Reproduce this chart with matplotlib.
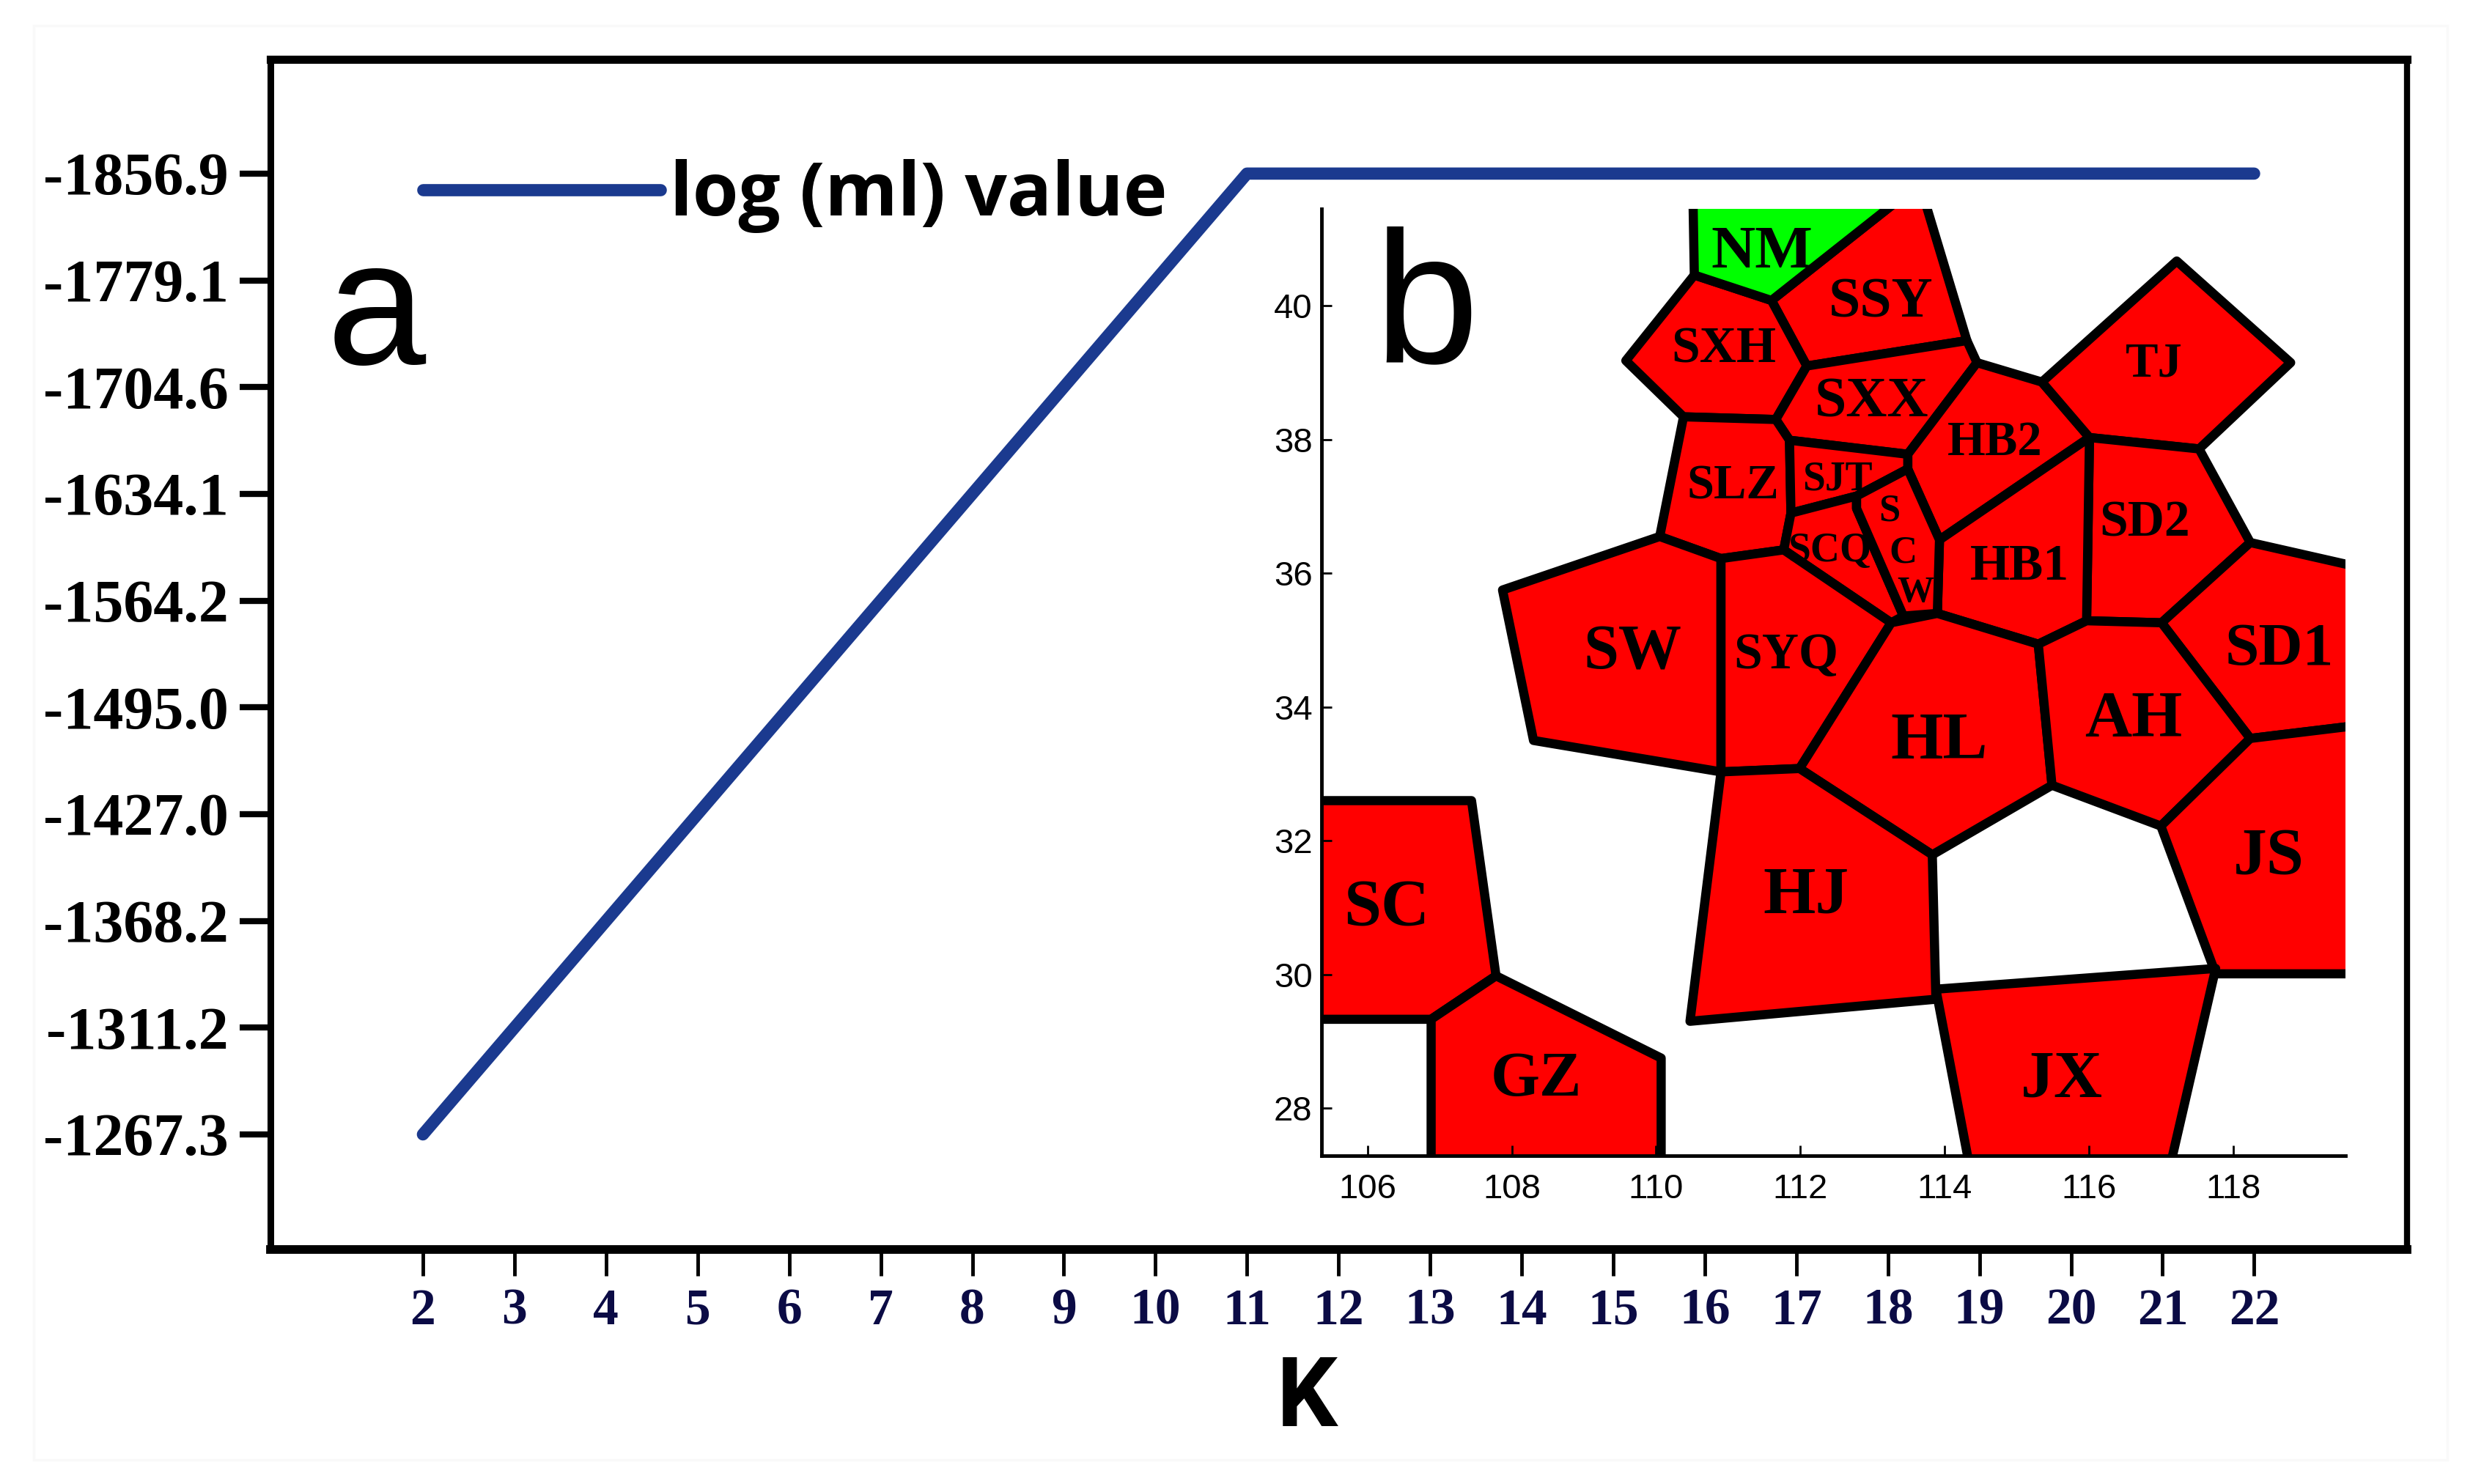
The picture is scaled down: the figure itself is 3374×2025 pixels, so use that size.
import matplotlib
matplotlib.use("Agg")
import matplotlib.pyplot as plt
from matplotlib.patches import Polygon, Rectangle

W, H = 3374, 2025

# panel a: K against log (ml), y axis is evenly spaced by label
K = list(range(2, 23))
log_ml = [-1267.3, -1311.2, -1368.2, -1427.0, -1495.0, -1564.2, -1634.1, -1704.6, -1779.1, -1856.9,
          -1856.9, -1856.9, -1856.9, -1856.9, -1856.9, -1856.9, -1856.9, -1856.9, -1856.9, -1856.9, -1856.9]
y_ticks = [-1267.3, -1311.2, -1368.2, -1427.0, -1495.0, -1564.2, -1634.1, -1704.6, -1779.1, -1856.9]

# panel b: cells as (longitude, latitude)
NM = [(110.51, 41.7), (110.53, 40.46), (111.60, 40.08), (113.5, 41.7)]
SSY = [(113.5, 41.7), (113.69, 41.7), (114.31, 39.48), (112.09, 39.10), (111.60, 40.08)]
SXH = [(110.53, 40.46), (111.60, 40.08), (112.09, 39.10), (111.66, 38.30), (110.38, 38.34), (109.58, 39.18)]
SXX = [(112.09, 39.10), (114.31, 39.48), (114.45, 39.15), (113.49, 37.78), (111.85, 37.99), (111.66, 38.30)]
HB2 = [(114.45, 39.15), (115.35, 38.86), (116.01, 38.03), (113.93, 36.50), (113.49, 37.56), (113.49, 37.78)]
TJ = [(115.35, 38.86), (117.22, 40.67), (118.80, 39.15), (117.53, 37.86), (116.01, 38.03)]
SD2 = [(116.01, 38.03), (117.53, 37.86), (118.24, 36.46), (117.01, 35.26), (115.97, 35.29)]
HB1 = [(116.01, 38.03), (115.97, 35.29), (115.30, 34.94), (113.90, 35.40), (113.93, 36.50)]
SD1 = [(118.24, 36.46), (120.0, 36.03), (120.0, 33.76), (118.24, 33.53), (117.01, 35.26)]
SLZ = [(110.38, 38.34), (111.66, 38.30), (111.85, 37.99), (111.87, 36.90), (111.77, 36.35), (110.90, 36.22), (110.05, 36.55)]
SJT = [(111.85, 37.99), (113.49, 37.78), (113.49, 37.56), (112.78, 37.155), (111.87, 36.90)]
SCQ = [(111.87, 36.90), (112.78, 37.155), (112.78, 36.97), (113.43, 35.36), (113.26, 35.26), (111.77, 36.35)]
SCW = [(113.49, 37.56), (113.93, 36.50), (113.90, 35.40), (113.43, 35.36), (112.78, 36.97), (112.78, 37.155)]
SW = [(107.87, 35.75), (110.05, 36.55), (110.90, 36.22), (110.90, 33.03), (108.30, 33.50)]
SYQ = [(110.90, 36.22), (111.77, 36.35), (113.26, 35.26), (111.99, 33.08), (110.90, 33.03)]
HL = [(113.26, 35.26), (113.90, 35.40), (115.30, 34.94), (115.49, 32.83), (113.83, 31.79), (111.99, 33.08)]
AH = [(115.30, 34.94), (115.97, 35.29), (117.01, 35.26), (118.24, 33.53), (117.00, 32.22), (115.49, 32.83)]
JS = [(118.24, 33.53), (120.0, 33.76), (120.0, 30.01), (117.76, 30.01), (117.00, 32.22)]
JX = [(113.88, 29.78), (117.76, 30.09), (117.10, 27.0), (114.37, 27.0)]
HJ = [(110.90, 33.03), (111.99, 33.08), (113.83, 31.79), (113.88, 29.63), (110.47, 29.30)]
SC = [(105.0, 32.60), (107.44, 32.60), (107.78, 29.98), (106.88, 29.33), (105.0, 29.33)]
GZ = [(106.88, 29.33), (107.78, 29.98), (110.07, 28.75), (110.07, 27.0), (106.88, 27.0)]

red_cells = [SSY, SXH, SXX, HB2, TJ, SD2, HB1, SD1, SLZ, SJT, SCQ, SCW, SW, SYQ, HL, AH, JS, JX, HJ, SC, GZ]
green_cells = [NM]

cell_names = ['NM', 'SSY', 'SXH', 'SXX', 'HB2', 'TJ', 'SLZ', 'SJT', 'SCQ', 'S', 'C', 'W', 'SD2', 'HB1',
              'SD1', 'SW', 'SYQ', 'AH', 'HL', 'JS', 'HJ', 'SC', 'GZ', 'JX']
name_lon = [111.47, 113.12, 110.94, 112.99, 114.70, 116.91, 111.07, 112.51, 112.41, 113.24, 113.43, 113.60,
            116.78, 115.04, 118.64, 109.67, 111.80, 116.62, 113.93, 118.50, 112.08, 106.26, 108.34, 115.63]
name_lat = [40.89, 40.13, 39.42, 38.64, 38.03, 39.20, 37.37, 37.47, 36.40, 36.99, 36.37, 35.77,
            36.83, 36.17, 34.94, 34.90, 34.85, 33.91, 33.58, 31.85, 31.27, 31.08, 28.52, 28.52]
name_size = [60, 56, 50, 56, 48, 48, 48, 40, 40, 38, 38, 36, 50, 50, 60, 62, 50, 64, 66, 66, 66, 66, 62, 66]

fig = plt.figure(figsize=(W / 100, H / 100), dpi=100, facecolor='white')

# faint edge of the pasted picture
fig.add_artist(Rectangle((46 / W, 1 - 1992 / H), (3339 - 46) / W, (1992 - 35) / H, transform=fig.transFigure,
                         facecolor='white', edgecolor='#F9F9F9', lw=2.5, zorder=-1))

# main axes
ax = fig.add_axes([369 / W, 1 - 1705 / H, (3284 - 369) / W, (1705 - 81) / H], facecolor='none')
y_pos = [y_ticks.index(v) for v in log_ml]
ax.plot(K, y_pos, color='#1B3A8F', lw=12, solid_capstyle='round', solid_joinstyle='round', label='log (ml) value')
ax.set_xlim(0.335, 23.67)
ax.set_ylim(-1.078, 10.07)
ax.set_xticks(K)
ax.set_xticklabels([str(k) for k in K], family='Liberation Serif', weight='bold', fontsize=50, color='#0B0B45')
ax.set_yticks(range(len(y_ticks)))
ax.set_yticklabels(['%.1f' % v for v in y_ticks], family='Liberation Serif', weight='bold', fontsize=59)
ax.tick_params(axis='x', length=26, width=3.5, pad=12)
ax.tick_params(axis='y', length=30, width=6, pad=11)
for name, lw in [('top', 8), ('bottom', 8.5), ('left', 6.5), ('right', 6)]:
    ax.spines[name].set_linewidth(lw)
ax.set_xlabel('K', family='Roboto', weight='bold', fontsize=94)
ax.xaxis.set_label_coords(0.485, -0.0874)
ax.legend(loc='center left', bbox_to_anchor=(577 / W, 1 - 268 / H), bbox_transform=fig.transFigure,
          frameon=False, borderpad=0, borderaxespad=0, handlelength=3.2, handletextpad=0.12,
          prop={'family': 'Open Sans', 'weight': 'bold', 'size': 73})

fig.text(446 / W, 1 - 497 / H, 'a', family='Liberation Sans', fontsize=175, va='baseline')

# inset map
inset = fig.add_axes([1803 / W, 1 - 1577 / H, (3200 - 1803) / W, (1577 - 285) / H], facecolor='none')
for cells, colour in [(red_cells, '#FF0000'), (green_cells, '#00FF00')]:
    for cell in cells:
        inset.add_patch(Polygon(cell, closed=True, facecolor=colour, edgecolor='black', lw=9, joinstyle='round'))
for name, lon, lat, size in zip(cell_names, name_lon, name_lat, name_size):
    inset.text(lon, lat, name, family='Liberation Serif', weight='bold', fontsize=size,
               ha='center', va='center_baseline')
inset.set_xlim(105.36, 119.56)
inset.set_ylim(27.29, 41.45)
inset.set_xticks(range(106, 119, 2))
inset.set_yticks(range(28, 41, 2))
inset.tick_params(direction='in', length=10, width=2, labelsize=34)
inset.tick_params(axis='x', pad=17)
inset.tick_params(axis='y', pad=9)
for label in inset.get_xticklabels() + inset.get_yticklabels():
    label.set_family('Liberation Sans')
inset.spines['top'].set_visible(False)
inset.spines['right'].set_visible(False)
inset.spines['left'].set_linewidth(3.5)
inset.spines['bottom'].set_linewidth(3.5)

fig.text(1874 / W, 1 - 494 / H, 'b', family='Liberation Sans', fontsize=185, va='baseline')

fig.savefig('out.png', dpi=100)
